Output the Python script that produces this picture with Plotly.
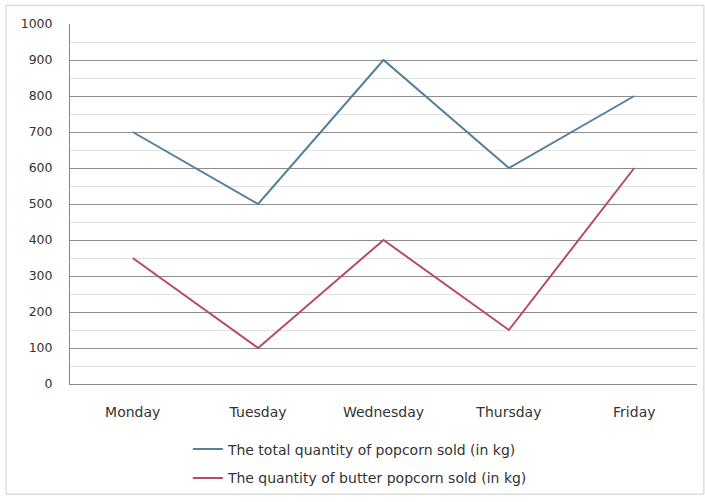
import plotly.graph_objects as go

days = ["Monday", "Tuesday", "Wednesday", "Thursday", "Friday"]
total_popcorn = [700, 500, 900, 600, 800]
butter_popcorn = [350, 100, 400, 150, 600]
series_names = ["The total quantity of popcorn sold (in kg)",
                "The quantity of butter popcorn sold (in kg)"]
y_ticks = [0, 100, 200, 300, 400, 500, 600, 700, 800, 900, 1000]

font = "DejaVu Sans"

fig = go.Figure()
fig.add_trace(go.Scatter(x=days, y=total_popcorn, mode="lines", name=series_names[0],
                         line=dict(color="#55809b", width=2), legend="legend"))
fig.add_trace(go.Scatter(x=days, y=butter_popcorn, mode="lines", name=series_names[1],
                         line=dict(color="#b84a66", width=2), legend="legend2"))

leg_common = dict(orientation="v", xanchor="left", yanchor="middle",
                  font=dict(family=font, size=14, color="#333"),
                  itemwidth=30, bgcolor="rgba(0,0,0,0)", borderwidth=0)

fig.update_layout(
    width=705, height=502,
    margin=dict(l=70, r=8, t=24, b=115),
    paper_bgcolor="white", plot_bgcolor="white",
    font=dict(family=font, size=12, color="#333"),
    showlegend=True,
    legend=dict(x=0.188, y=-0.182, **leg_common),
    legend2=dict(x=0.188, y=-0.262, **leg_common),
    xaxis=dict(type="category", range=[-0.5, 4.5], showgrid=False, automargin=False,
               showline=True, linecolor="#888", linewidth=1,
               ticks="", ticklabelstandoff=15, tickfont=dict(size=14, color="#333")),
    yaxis=dict(range=[0, 1000], tickvals=y_ticks, ticktext=[str(v) for v in y_ticks],
               automargin=False,
               showgrid=True, gridcolor="#8c8c8c", gridwidth=1,
               minor=dict(dtick=50, tick0=0, showgrid=True, gridcolor="#e2e2e2", gridwidth=1),
               showline=True, linecolor="#888", linewidth=1,
               zeroline=False, ticks="", ticklabelstandoff=14,
               tickfont=dict(size=12.5, color="#333")),
    shapes=[dict(type="rect", xref="paper", yref="paper",
                 x0=-0.102, x1=1.011, y0=-0.306, y1=1.052,
                 line=dict(color="#cccccc", width=1), layer="below")],
)

fig.write_html("out.html", config={"displayModeBar": False},
               post_script="document.body.style.margin='0';")
